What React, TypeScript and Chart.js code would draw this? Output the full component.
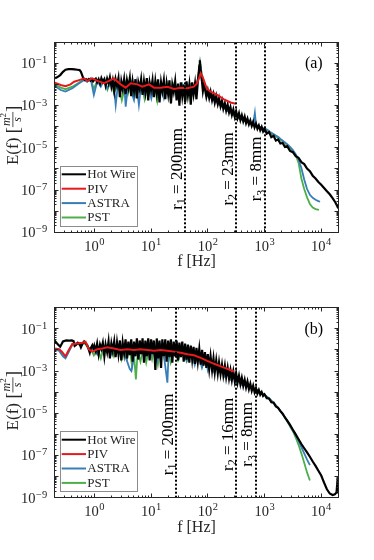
import React, { useEffect, useRef } from 'react';
import { Chart, registerables } from 'chart.js';

Chart.register(...registerables);

const SERIF = '"Liberation Serif", "DejaVu Serif", serif';
const AXIS = '#262626';

// ---------------- Panel (a) ----------------
const hwA_f = [0.2, 0.22, 0.25, 0.28, 0.31, 0.35, 0.4, 0.45, 0.5, 0.55, 0.58, 0.61, 0.64, 0.68, 0.72, 0.76, 0.8, 0.85, 0.9, 0.95,
  1.0, 1.06, 1.12, 1.19, 1.26, 1.33, 1.41, 1.5, 1.58, 1.68, 1.78, 1.88, 2.0, 2.11, 2.24, 2.37, 2.51, 2.66, 2.82, 2.99,
  3.16, 3.35, 3.55, 3.76, 3.98, 4.22, 4.47, 4.73, 5.01, 5.31, 5.62, 5.96, 6.31, 6.68, 7.08, 7.5, 7.94, 8.41, 8.91, 9.44,
  10, 10.6, 11.2, 11.9, 12.6, 13.3, 14.1, 15, 15.8, 16.8, 17.8, 18.8, 20, 21.1, 22.4, 23.7, 25.1, 26.6, 28.2, 29.9,
  31.6, 33.5, 35.5, 37.6, 39.8, 42.2, 44.7, 47.3, 50.1, 53.1, 56.2, 59.6, 63.1, 66.8, 69, 71, 72.5, 74, 76, 79, 82, 85,
  89.1, 94.4, 100, 106, 112, 119, 126, 133, 141, 150, 158, 168, 178, 188, 200, 211, 224, 237, 251, 266, 282, 299,
  316, 335, 355, 376, 398, 422, 447, 473, 501, 531, 562, 596, 631, 668, 708, 750, 794, 841, 891, 944, 1000,
  1096, 1202, 1318, 1445, 1585, 1738, 1905, 2089, 2291, 2512, 2818, 3162, 3548, 3981, 4467, 5012, 5623, 6310, 7079, 7943,
  8913, 10000, 11220, 12590, 14130, 15850, 17780, 19050, 19950];
const hwA_E = [2.0e-2, 2.2e-2, 2.8e-2, 4.0e-2, 5.0e-2, 5.4e-2, 5.4e-2, 5.2e-2, 5.0e-2, 4.8e-2, 4.0e-2, 2.8e-2, 1.9e-2, 1.66e-2, 1.78e-2, 1.58e-2, 1.82e-2, 1.51e-2, 1.74e-2, 1.41e-2,
  1.66e-2, 1.9e-2, 1.26e-2, 1.78e-2, 1.12e-2, 2.0e-2, 1.32e-2, 1.78e-2, 8.9e-3, 1.9e-2, 1.12e-2, 2.2e-2, 7.9e-3, 1.58e-2, 5.0e-3, 1.78e-2, 8.9e-3, 2.0e-2, 2.5e-3, 1.41e-2,
  6.3e-3, 1.78e-2, 3.5e-3, 1.58e-2, 7.1e-3, 2.0e-2, 2.8e-3, 1.41e-2, 5.0e-3, 1.78e-2, 2.2e-3, 1.26e-2, 6.3e-3, 1.78e-2, 3.2e-3, 1.41e-2, 4.5e-3, 2.0e-2, 1.78e-3, 1.26e-2,
  5.6e-3, 1.58e-2, 2.5e-3, 1.41e-2, 4.0e-3, 1.78e-2, 1.41e-3, 1.26e-2, 5.0e-3, 1.58e-2, 2.0e-3, 1.12e-2, 3.5e-3, 1.58e-2, 1.26e-3, 1.0e-2, 4.5e-3, 1.41e-2, 1.78e-3, 1.12e-2,
  1.0e-3, 1.26e-2, 2.8e-3, 1.0e-2, 1.41e-3, 1.41e-2, 3.2e-3, 1.0e-2, 1.12e-3, 1.26e-2, 3.5e-3, 1.12e-2, 2.0e-3, 1.41e-2, 3.2e-2, 7.9e-2, 1.41e-1, 7.1e-2, 2.8e-2, 1.41e-2, 5.0e-3, 8.9e-3,
  6.3e-3, 2.6e-3, 5.2e-3, 2.3e-3, 4.5e-3, 1.8e-3, 3.4e-3, 1.4e-3, 2.8e-3, 1.2e-3, 2.2e-3, 9.3e-4, 1.7e-3, 7.1e-4, 1.3e-3, 5.8e-4, 1.1e-3, 4.8e-4, 8.5e-4, 3.7e-4, 6.6e-4, 3.0e-4,
  5.4e-4, 2.6e-4, 4.4e-4, 2.1e-4, 3.5e-4, 1.8e-4, 3.0e-4, 1.5e-4, 2.4e-4, 1.3e-4, 2.0e-4, 1.1e-4, 1.7e-4, 9.3e-5, 1.4e-4, 8.1e-5, 1.15e-4, 6.8e-5, 9.8e-5, 6.0e-5, 8.1e-5,
  4.7e-5, 5.6e-5, 3.2e-5, 3.7e-5, 2.2e-5, 2.5e-5, 1.6e-5, 1.7e-5, 1.1e-5, 1.2e-5, 7.2e-6, 6.2e-6, 4.0e-6, 3.4e-6, 2.1e-6, 1.7e-6, 1.05e-6, 7.9e-7, 4.8e-7, 3.5e-7,
  2.4e-7, 1.8e-7, 1.26e-7, 8.9e-8, 6.3e-8, 4.2e-8, 2.6e-8, 1.8e-8, 1.35e-8];

const pivA_f = [0.195, 0.255, 0.31, 0.38, 0.44, 0.54, 0.66, 0.75, 0.92, 1.13, 1.48, 1.81, 2.22, 2.91, 3.57, 4.37, 5.73, 7.0, 9.2, 11.3,
  14.8, 19.4, 25.4, 33.3, 43.6, 57, 65, 75, 83, 95.5, 112, 147, 193, 253, 310];
const pivA_E = [1.26e-2, 9.5e-3, 8.3e-3, 1.02e-2, 1.35e-2, 1.62e-2, 1.95e-2, 1.48e-2, 1.95e-2, 1.48e-2, 1.15e-2, 1.48e-2, 1.95e-2, 1.02e-2, 7.1e-3, 1.15e-2, 1.02e-2, 7.9e-3, 1.02e-2, 7.1e-3,
  7.1e-3, 7.9e-3, 6.2e-3, 7.1e-3, 6.6e-3, 7.9e-3, 1.15e-2, 3.4e-2, 1.95e-2, 6.6e-3, 4.6e-3, 3.2e-3, 2.0e-3, 1.41e-3, 1.23e-3];

const astraA_f = [0.195, 0.255, 0.31, 0.41, 0.54, 0.66, 0.75, 0.86, 0.98, 1.13, 1.30, 1.48, 1.70, 1.94, 2.22, 2.38, 2.62, 3.05, 3.34, 3.57,
  3.92, 4.49, 5.0, 5.5, 6.1, 6.7, 7.7, 8.8, 10.1, 11.3, 12.9, 14.8, 16.9, 19.4, 22.2, 25.4, 29.9, 35.7, 42.5, 50, 59, 67, 73, 79, 91,
  100, 112, 126, 141, 158, 178, 200, 224, 251, 282, 316, 355, 398, 447, 501, 562, 631, 676, 708, 794,
  891, 1000, 1122, 1259, 1413, 1585, 1778, 1995, 2239, 2512, 2818, 3162, 3548, 3981, 4467, 5012, 5623, 6310, 7079, 7943, 8913, 9550];
const astraA_E = [8.9e-3, 5.5e-3, 4.6e-3, 6.6e-3, 1.15e-2, 1.62e-2, 1.35e-2, 1.95e-2, 3.2e-3, 1.48e-2, 7.9e-3, 1.62e-2, 6.6e-3, 1.35e-2, 7.9e-3, 1.07e-3, 1.15e-2, 5.5e-3, 1.35e-2, 8.9e-4,
  9.5e-3, 4.6e-3, 1.86e-3, 1.15e-2, 1.07e-3, 9.5e-3, 3.8e-3, 1.02e-2, 2.2e-3, 9.5e-3, 3.2e-3, 1.15e-2, 2.2e-3, 7.9e-3, 2.6e-3, 9.5e-3, 3.2e-3, 1.02e-2, 3.8e-3, 9.5e-3, 4.6e-3, 1.95e-2, 1.0e-1, 2.3e-2, 5.5e-3,
  3.2e-3, 2.5e-3, 1.78e-3, 1.58e-3, 1.26e-3, 8.9e-4, 8.3e-4, 5.6e-4, 5.0e-4, 3.5e-4, 3.3e-4, 2.5e-4, 2.4e-4, 1.9e-4, 1.78e-4, 1.41e-4, 1.32e-4, 4.5e-4, 1.2e-4, 1.05e-4,
  8.9e-5, 8.3e-5, 7.1e-5, 5.6e-5, 4.7e-5, 3.8e-5, 3.2e-5, 2.4e-5, 1.9e-5, 1.5e-5, 1.12e-5, 7.9e-6, 5.0e-6, 2.8e-6, 1.12e-6, 3.2e-7, 1.12e-7, 6.0e-8, 4.3e-8, 3.5e-8, 3.0e-8, 2.8e-8];

const pstA_f = [0.195, 0.255, 0.31, 0.41, 0.54, 0.66, 0.75, 0.86, 0.98, 1.13, 1.30, 1.48, 1.70, 1.94, 2.22, 2.62, 3.05, 3.57, 3.92, 4.49,
  5.0, 5.5, 6.1, 6.7, 7.7, 8.8, 10.1, 11.3, 12.9, 14.8, 16.9, 19.4, 22.2, 25.4, 29.9, 35.7, 42.5, 50, 59, 67, 73, 79, 91,
  100, 126, 158, 200, 251, 316, 398, 501, 631, 794, 1000, 1259, 1585, 1995, 2512, 3162, 3548, 3981, 4467, 5012, 5623, 6310, 7079, 7943, 9120];
const pstA_E = [1.05e-2, 7.1e-3, 6.0e-3, 7.9e-3, 1.26e-2, 1.82e-2, 1.41e-2, 1.78e-2, 6.3e-3, 1.58e-2, 8.9e-3, 1.66e-2, 5.6e-3, 1.41e-2, 4.0e-3, 1.26e-2, 1.78e-3, 1.12e-2, 3.5e-3, 1.26e-2,
  2.5e-3, 1.12e-2, 4.5e-3, 1.26e-2, 2.0e-3, 1.12e-2, 4.0e-3, 1.12e-2, 1.58e-3, 1.0e-2, 3.5e-3, 1.12e-2, 1.78e-3, 1.0e-2, 2.8e-3, 1.0e-2, 2.2e-3, 1.0e-2, 5.0e-3, 1.78e-2, 1.12e-1, 2.8e-2, 6.3e-3,
  3.5e-3, 2.0e-3, 1.12e-3, 7.1e-4, 4.5e-4, 3.0e-4, 2.1e-4, 1.58e-4, 1.2e-4, 8.9e-5, 7.1e-5, 5.0e-5, 3.5e-5, 2.2e-5, 1.35e-5, 7.1e-6, 4.5e-6, 2.0e-6, 3.5e-7, 1.12e-7, 4.5e-8, 2.2e-8, 1.48e-8, 1.26e-8, 1.15e-8];

const scaleLinesA = [40, 315, 1000];
const scaleNamesA = ['200mm', '23mm', '8mm'];

// ---------------- Panel (b) ----------------
const hwB_f = [0.195, 0.22, 0.25, 0.28, 0.32, 0.36, 0.4, 0.43, 0.45, 0.48, 0.51, 0.55, 0.58, 0.62, 0.66, 0.7, 0.75, 0.79, 0.83, 0.87, 0.92, 0.97,
  1.0, 1.06, 1.12, 1.19, 1.26, 1.33, 1.41, 1.5, 1.58, 1.68, 1.78, 1.88, 2.0, 2.11, 2.24, 2.37, 2.51, 2.66, 2.82, 2.99,
  3.16, 3.35, 3.55, 3.76, 3.98, 4.22, 4.47, 4.73, 5.01, 5.31, 5.62, 5.96, 6.31, 6.68, 7.08, 7.5, 7.94, 8.41, 8.91, 9.44,
  10, 10.6, 11.2, 11.9, 12.6, 13.3, 14.1, 15, 15.8, 16.8, 17.8, 18.8, 20, 21.1, 22.4, 23.7, 25.1, 26.6, 28.2, 29.9,
  31.6, 33.5, 35.5, 37.6, 39.8, 42.2, 44.7, 47.3, 50.1, 53.1, 56.2, 59.6, 63.1, 66.8, 70.8, 75, 79.4, 84.1, 89.1, 94.4,
  100, 106, 112, 119, 126, 133, 141, 150, 158, 168, 178, 188, 200, 211, 224, 237, 251, 266, 282, 299,
  316, 335, 355, 376, 398, 422, 447, 473, 501, 531, 562, 596, 631, 668, 708, 750, 794, 841, 891, 944, 1000,
  1096, 1202, 1318, 1445, 1585, 1738, 1905, 2089, 2291, 2512, 2818, 3162, 3548, 3981, 4467, 5012, 5623, 6310, 7079, 7943,
  8913, 10000, 11220, 12590, 14130, 15850, 17380, 18620, 19500, 20000];
const hwB_E = [2.95e-2, 2.0e-2, 1.41e-2, 2.5e-2, 2.8e-2, 2.75e-2, 2.8e-2, 2.6e-2, 1.55e-2, 1.78e-2, 2.2e-2, 1.9e-2, 1.32e-2, 2.0e-2, 2.5e-2, 2.1e-2, 1.7e-2, 1.12e-2, 7.4e-3, 1.26e-2, 1.66e-2, 1.12e-2,
  1.58e-2, 8.9e-3, 2.0e-2, 6.3e-3, 1.78e-2, 1.12e-2, 2.2e-2, 5.0e-3, 1.78e-2, 7.9e-3, 2.5e-2, 4.0e-3, 2.0e-2, 8.9e-3, 2.5e-2, 4.5e-3, 2.2e-2, 6.3e-3, 2.8e-2, 3.2e-3,
  2.2e-2, 7.1e-3, 3.2e-2, 4.0e-3, 2.5e-2, 5.6e-3, 3.2e-2, 2.8e-3, 2.5e-2, 5.0e-3, 3.5e-2, 3.5e-3, 2.8e-2, 6.3e-3, 3.5e-2, 2.5e-3, 2.8e-2, 5.0e-3, 3.5e-2, 3.2e-3,
  3.2e-2, 6.3e-3, 2.8e-2, 1.12e-3, 3.5e-2, 4.0e-3, 2.8e-2, 1.41e-3, 3.2e-2, 5.0e-3, 3.2e-2, 2.8e-3, 2.8e-2, 4.5e-3, 3.2e-2, 2.5e-3, 2.5e-2, 5.0e-3, 2.8e-2, 3.2e-3,
  2.2e-2, 4.5e-3, 2.5e-2, 2.8e-3, 2.0e-2, 3.5e-3, 1.78e-2, 2.5e-3, 1.58e-2, 3.5e-3, 1.41e-2, 2.2e-3, 1.26e-2, 2.8e-3, 1.12e-2, 2.0e-3, 1.0e-2, 1.78e-3, 7.9e-3, 1.41e-3,
  6.3e-3, 1.26e-3, 5.0e-3, 1.12e-3, 4.0e-3, 8.9e-4, 3.2e-3, 7.9e-4, 2.5e-3, 7.1e-4, 2.0e-3, 6.3e-4, 1.78e-3, 5.2e-4, 1.41e-3, 4.5e-4, 1.12e-3, 3.8e-4, 9.5e-4, 3.3e-4,
  7.9e-4, 2.8e-4, 6.0e-4, 2.4e-4, 4.8e-4, 2.0e-4, 3.8e-4, 1.66e-4, 3.2e-4, 1.41e-4, 2.5e-4, 1.17e-4, 2.0e-4, 1.0e-4, 1.58e-4, 8.7e-5, 1.26e-4, 7.6e-5, 1.0e-4, 6.6e-5, 7.9e-5,
  5.2e-5, 5.0e-5, 3.3e-5, 3.2e-5, 2.1e-5, 1.82e-5, 1.26e-5, 9.5e-6, 6.3e-6, 4.5e-6, 2.8e-6, 1.66e-6, 1.0e-6, 5.9e-7, 3.5e-7, 2.2e-7, 1.41e-7, 8.7e-8, 5.2e-8, 3.2e-8,
  1.9e-8, 1.12e-8, 5.2e-9, 2.5e-9, 1.58e-9, 1.35e-9, 1.45e-9, 1.78e-9, 8.3e-9, 1.58e-9];

const pivB_f = [0.195, 0.24, 0.27, 0.31, 0.36, 0.41, 0.5, 0.62, 0.7, 0.8, 0.92, 1.13, 1.38, 1.7, 2.22, 2.91, 3.8, 5.0, 6.5, 8.6,
  11.3, 14.8, 19.4, 25.4, 33.3, 43.6, 57, 75, 98, 129, 169, 221, 289];
const pivB_E = [1.17e-2, 1.07e-2, 8.0e-3, 5.0e-3, 1.07e-2, 1.9e-2, 2.0e-2, 2.2e-2, 2.45e-2, 1.07e-2, 8.3e-3, 1.07e-2, 1.17e-2, 1.32e-2, 1.17e-2, 1.0e-2, 1.07e-2, 1.0e-2, 1.07e-2, 1.0e-2,
  9.1e-3, 1.0e-2, 9.1e-3, 8.3e-3, 7.4e-3, 6.2e-3, 5.6e-3, 4.2e-3, 3.0e-3, 2.2e-3, 1.66e-3, 1.26e-3, 9.5e-4];

const astraB_f = [0.195, 0.24, 0.28, 0.31, 0.36, 0.41, 0.5, 0.58, 0.66, 0.75, 0.86, 0.98, 1.13, 1.3, 1.48, 1.7, 1.94, 2.22, 2.6, 3.0,
  3.4, 3.8, 4.2, 4.5, 4.9, 5.4, 6.1, 6.8, 7.7, 8.8, 10.1, 11.3, 12.9, 14.8, 16.9, 19.4, 20.5, 22.2, 25.4, 29.9,
  35.7, 42.5, 50, 59, 67, 79, 91, 100, 112, 126, 141, 158, 178, 200, 224, 251, 282, 316, 355, 398,
  447, 501, 631, 794, 1000, 1259, 1585, 1995, 2512, 3162, 3548, 3981, 4467, 5012, 5623, 6310];
const astraB_E = [1.17e-2, 8.9e-3, 5.0e-3, 4.0e-3, 8.9e-3, 1.78e-2, 2.0e-2, 1.58e-2, 2.2e-2, 1.58e-2, 8.9e-3, 1.41e-2, 6.3e-3, 1.41e-2, 8.9e-3, 1.58e-2, 5.6e-3, 1.41e-2, 7.9e-3, 1.12e-2,
  6.3e-3, 2.8e-3, 1.26e-3, 1.0e-3, 3.5e-3, 1.26e-2, 5.0e-3, 1.41e-2, 4.0e-3, 1.58e-2, 5.6e-3, 1.78e-2, 3.2e-3, 1.58e-2, 5.0e-3, 2.8e-4, 1.0e-2, 5.6e-3, 1.58e-2, 4.0e-3,
  1.41e-2, 3.2e-3, 1.26e-2, 2.0e-3, 7.9e-3, 1.41e-3, 4.5e-3, 1.12e-3, 3.2e-3, 1.0e-3, 2.0e-3, 8.9e-4, 1.41e-3, 5.6e-4, 8.9e-4, 4.0e-4, 6.3e-4, 2.8e-4, 4.5e-4, 2.2e-4,
  2.8e-4, 2.0e-4, 1.58e-4, 1.12e-4, 7.6e-5, 4.5e-5, 2.4e-5, 1.12e-5, 4.5e-6, 1.58e-6, 8.9e-7, 5.0e-7, 2.5e-7, 1.26e-7, 6.3e-8, 3.5e-8];

const pstB_f = [0.195, 0.24, 0.28, 0.31, 0.36, 0.41, 0.5, 0.58, 0.66, 0.75, 0.86, 0.98, 1.13, 1.3, 1.48, 1.7, 1.94, 2.22, 2.6, 3.0,
  3.4, 3.8, 4.2, 4.6, 5.0, 5.4, 5.8, 6.5, 7.3, 8.2, 9.2, 10.4, 11.7, 13.2, 14.8, 16.9, 19.4, 22.2, 25.4, 29.9,
  35.7, 42.5, 50, 59, 67, 79, 91, 100, 126, 158, 200, 251, 316, 398, 501, 631, 794, 1000, 1259, 1585,
  1995, 2512, 3162, 3548, 3981, 4467, 5012, 5623, 6310];
const pstB_E = [1.12e-2, 1.0e-2, 5.6e-3, 4.5e-3, 1.0e-2, 1.9e-2, 2.1e-2, 1.78e-2, 2.4e-2, 1.41e-2, 1.12e-2, 5.6e-3, 1.41e-2, 4.0e-3, 1.58e-2, 7.9e-3, 1.78e-2, 5.0e-3, 1.58e-2, 3.5e-3,
  1.26e-2, 4.0e-3, 1.41e-2, 1.78e-3, 6.3e-3, 4.0e-4, 7.9e-3, 2.8e-3, 1.41e-2, 2.5e-3, 1.26e-2, 3.5e-3, 1.58e-2, 2.0e-3, 1.41e-2, 4.5e-3, 1.26e-2, 2.5e-3, 1.12e-2, 3.2e-3,
  1.0e-2, 2.8e-3, 7.9e-3, 2.2e-3, 5.6e-3, 1.78e-3, 4.0e-3, 1.41e-3, 2.5e-3, 1.0e-3, 1.26e-3, 5.0e-4, 5.6e-4, 2.5e-4, 2.4e-4, 1.58e-4, 1.12e-4, 7.6e-5, 4.5e-5, 2.4e-5,
  1.12e-5, 4.2e-6, 1.41e-6, 7.1e-7, 3.2e-7, 1.26e-7, 4.5e-8, 1.58e-8, 6.5e-9];

const scaleLinesB = [27.6, 315, 700];
const scaleNamesB = ['200mm', '16mm', '8mm'];

// ---------------- shared ----------------
const xRange = [0.2, 2e4];
const yRange = [1e-9, 1];
const xTickExps = [0, 1, 2, 3, 4];
const yTickExps = [-1, -3, -5, -7, -9];
const legendLabels = ['Hot Wire', 'PIV', 'ASTRA', 'PST'];
const legendColors = ['#000000', '#e41a1c', '#377eb8', '#4daf4a'];
const annotationE = 1e-6;

type Series = { f: number[]; E: number[] };
type PanelCfg = {
  hw: Series; piv: Series; astra: Series; pst: Series;
  lines: number[]; names: string[]; tag: string;
};

const pts = (s: Series) => s.f.map((x, i) => ({ x, y: s.E[i] }));

function drawPow(ctx: CanvasRenderingContext2D, exp: number, x: number, yBase: number, supBase: number, align: 'right' | 'center') {
  const main = `14.5px ${SERIF}`;
  const sup = `10.5px ${SERIF}`;
  const es = (exp < 0 ? '\u2212' : '') + Math.abs(exp);
  ctx.font = main;
  const w1 = ctx.measureText('10').width;
  ctx.font = sup;
  const w2 = ctx.measureText(es).width;
  const total = w1 + w2 + 0.5;
  const x0 = align === 'right' ? x - total : x - total / 2;
  ctx.textAlign = 'left';
  ctx.textBaseline = 'alphabetic';
  ctx.font = main;
  ctx.fillText('10', x0, yBase);
  ctx.font = sup;
  ctx.fillText(es, x0 + w1 + 0.5, supBase);
}

function makeDecor(cfg: PanelCfg) {
  return {
    id: 'decor_' + cfg.tag,
    afterDatasetsDraw(chart: any) {
      const ctx: CanvasRenderingContext2D = chart.ctx;
      const { left, right, top, bottom } = chart.chartArea;
      const xs = chart.scales.x;
      const ys = chart.scales.y;
      ctx.save();

      // dotted scale lines
      ctx.strokeStyle = '#000';
      ctx.lineWidth = 2;
      ctx.setLineDash([2, 2]);
      cfg.lines.forEach((f) => {
        const px = Math.round(xs.getPixelForValue(f));
        ctx.beginPath();
        ctx.moveTo(px, top);
        ctx.lineTo(px, bottom);
        ctx.stroke();
      });
      ctx.setLineDash([]);

      // rotated annotations
      cfg.lines.forEach((f, i) => {
        const px = xs.getPixelForValue(f) - 3.5;
        const py = ys.getPixelForValue(annotationE);
        ctx.save();
        ctx.translate(px, py);
        ctx.rotate(-Math.PI / 2);
        ctx.fillStyle = '#000';
        ctx.textAlign = 'left';
        ctx.textBaseline = 'alphabetic';
        const mainF = `17px ${SERIF}`;
        const subF = `12px ${SERIF}`;
        const rest = ' = ' + cfg.names[i];
        const sub = String(i + 1);
        ctx.font = mainF;
        const wr = ctx.measureText('r').width;
        const wrest = ctx.measureText(rest).width;
        ctx.font = subF;
        const ws = ctx.measureText(sub).width;
        let sx = -(wr + ws + wrest) / 2;
        ctx.font = mainF;
        ctx.fillText('r', sx, 0);
        sx += wr;
        ctx.font = subF;
        ctx.fillText(sub, sx, 3.5);
        sx += ws;
        ctx.font = mainF;
        ctx.fillText(rest, sx, 0);
        ctx.restore();
      });

      // box
      const L = Math.floor(left) + 0.5;
      const R = Math.floor(right) + 0.5;
      const T = Math.floor(top) + 0.5;
      const B = Math.floor(bottom) + 0.5;
      ctx.strokeStyle = AXIS;
      ctx.lineWidth = 1;
      ctx.strokeRect(L, T, R - L, B - T);

      // ticks
      ctx.beginPath();
      for (let d = -1; d <= 4; d++) {
        for (let m = 1; m <= 9; m++) {
          const v = m * Math.pow(10, d);
          if (v < xRange[0] || v > xRange[1]) continue;
          const px = Math.floor(xs.getPixelForValue(v)) + 0.5;
          const len = m === 1 ? 4 : 2;
          ctx.moveTo(px, B); ctx.lineTo(px, B - len);
          ctx.moveTo(px, T); ctx.lineTo(px, T + len);
        }
      }
      for (let d = -9; d <= 0; d++) {
        for (let m = 1; m <= 9; m++) {
          const v = m * Math.pow(10, d);
          if (v < yRange[0] || v > yRange[1]) continue;
          const py = Math.floor(ys.getPixelForValue(v)) + 0.5;
          const len = m === 1 ? 4 : 2;
          ctx.moveTo(L, py); ctx.lineTo(L + len, py);
          ctx.moveTo(R, py); ctx.lineTo(R - len, py);
        }
      }
      ctx.stroke();

      // tick labels
      ctx.fillStyle = AXIS;
      yTickExps.forEach((e) => {
        const py = ys.getPixelForValue(Math.pow(10, e));
        drawPow(ctx, e, left - 7.5, py + 4.8, py, 'right');
      });
      xTickExps.forEach((e) => {
        const px = xs.getPixelForValue(Math.pow(10, e));
        drawPow(ctx, e, px, bottom + 18.7, bottom + 12.7, 'center');
      });

      // x title
      ctx.font = `16px ${SERIF}`;
      ctx.textAlign = 'center';
      ctx.textBaseline = 'alphabetic';
      ctx.fillText('f [Hz]', (left + right) / 2, bottom + 34);

      // y title
      ctx.save();
      ctx.translate(17.5, (top + bottom) / 2 - 2);
      ctx.rotate(-Math.PI / 2);
      ctx.textAlign = 'left';
      const fMain = `17px ${SERIF}`;
      const fBr = `19px ${SERIF}`;
      const fFrac = `italic 12px ${SERIF}`;
      const fSup = `9px ${SERIF}`;
      ctx.font = fMain;
      const wE = ctx.measureText('E(f)').width;
      const wSp = ctx.measureText(' ').width;
      ctx.font = fBr;
      const wL = ctx.measureText('[').width;
      ctx.font = fFrac;
      const wM = ctx.measureText('m').width;
      const wS = ctx.measureText('s').width;
      ctx.font = fSup;
      const w2 = ctx.measureText('2').width;
      const fracW = wM + w2 + 2;
      let x = -(wE + wSp + 2 * wL + fracW) / 2;
      ctx.font = fMain;
      ctx.fillText('E(f)', x, 0);
      x += wE + wSp;
      ctx.font = fBr;
      ctx.fillText('[', x, 1.5);
      x += wL;
      ctx.font = fFrac;
      ctx.fillText('m', x + 1, -7.5);
      ctx.font = fSup;
      ctx.fillText('2', x + 1 + wM, -12);
      ctx.font = fFrac;
      ctx.fillText('s', x + (fracW - wS) / 2, 3);
      ctx.fillRect(x, -5, fracW, 0.8);
      x += fracW;
      ctx.font = fBr;
      ctx.fillText(']', x, 1.5);
      ctx.restore();

      // legend
      const lx0 = Math.floor(left + 5.3) + 0.5;
      const lx1 = Math.floor(left + 82.6) + 0.5;
      const ly0 = Math.floor(top + 123.7) + 0.5;
      const ly1 = Math.floor(top + 184) + 0.5;
      ctx.fillStyle = '#ffffff';
      ctx.fillRect(lx0, ly0, lx1 - lx0, ly1 - ly0);
      ctx.strokeStyle = '#8c8c8c';
      ctx.lineWidth = 1;
      ctx.strokeRect(lx0, ly0, lx1 - lx0, ly1 - ly0);
      legendLabels.forEach((lab, i) => {
        const ry = top + 132 + i * 14.4;
        ctx.strokeStyle = legendColors[i];
        ctx.lineWidth = 2;
        ctx.beginPath();
        ctx.moveTo(left + 7, ry);
        ctx.lineTo(left + 31.3, ry);
        ctx.stroke();
        ctx.fillStyle = AXIS;
        ctx.font = `13px ${SERIF}`;
        ctx.textAlign = 'left';
        ctx.textBaseline = 'middle';
        ctx.fillText(lab, left + 32.6, ry + 0.5);
      });

      // panel tag
      ctx.fillStyle = '#000';
      ctx.font = `16px ${SERIF}`;
      ctx.textAlign = 'center';
      ctx.textBaseline = 'middle';
      ctx.fillText(cfg.tag, right - 24.5, top + 21.7);

      ctx.restore();
    },
  };
}

function Panel({ cfg, top, height, padTop, padBottom }: { cfg: PanelCfg; top: number; height: number; padTop: number; padBottom: number }) {
  const ref = useRef<HTMLCanvasElement>(null);
  useEffect(() => {
    const canvas = ref.current!;
    const ds = (label: string, s: Series, color: string, w: number) => ({
      label,
      data: pts(s),
      borderColor: color,
      backgroundColor: color,
      borderWidth: w,
      pointRadius: 0,
      tension: 0,
      fill: false,
    });
    const chart = new Chart(canvas, {
      type: 'line',
      data: {
        datasets: [
          ds('PIV', cfg.piv, legendColors[1], 2),
          ds('Hot Wire', cfg.hw, legendColors[0], 2.2),
          ds('ASTRA', cfg.astra, legendColors[2], 1.8),
          ds('PST', cfg.pst, legendColors[3], 1.8),
        ],
      },
      options: {
        animation: false,
        responsive: false,
        devicePixelRatio: 1,
        events: [],
        layout: { autoPadding: false, padding: { left: 54.7, right: 35.7, top: padTop, bottom: padBottom } },
        plugins: { legend: { display: false }, tooltip: { enabled: false }, title: { display: false } },
        scales: {
          x: { type: 'logarithmic', min: xRange[0], max: xRange[1], display: false },
          y: { type: 'logarithmic', min: yRange[0], max: yRange[1], display: false },
        },
      } as any,
      plugins: [makeDecor(cfg)],
    });
    return () => chart.destroy();
  }, []);
  return (
    <canvas
      ref={ref}
      width={374}
      height={height}
      style={{ position: 'absolute', left: 0, top, width: 374, height }}
    />
  );
}

const cfgA: PanelCfg = {
  hw: { f: hwA_f, E: hwA_E }, piv: { f: pivA_f, E: pivA_E },
  astra: { f: astraA_f, E: astraA_E }, pst: { f: pstA_f, E: pstA_E },
  lines: scaleLinesA, names: scaleNamesA, tag: '(a)',
};
const cfgB: PanelCfg = {
  hw: { f: hwB_f, E: hwB_E }, piv: { f: pivB_f, E: pivB_E },
  astra: { f: astraB_f, E: astraB_E }, pst: { f: pstB_f, E: pstB_E },
  lines: scaleLinesB, names: scaleNamesB, tag: '(b)',
};

export default function App() {
  return (
    <div style={{ position: 'fixed', left: 0, top: 0, width: 374, height: 560, background: '#ffffff' }}>
      <Panel cfg={cfgA} top={0} height={280} padTop={42.3} padBottom={47.7} />
      <Panel cfg={cfgB} top={265} height={295} padTop={42.7} padBottom={62.3} />
    </div>
  );
}
